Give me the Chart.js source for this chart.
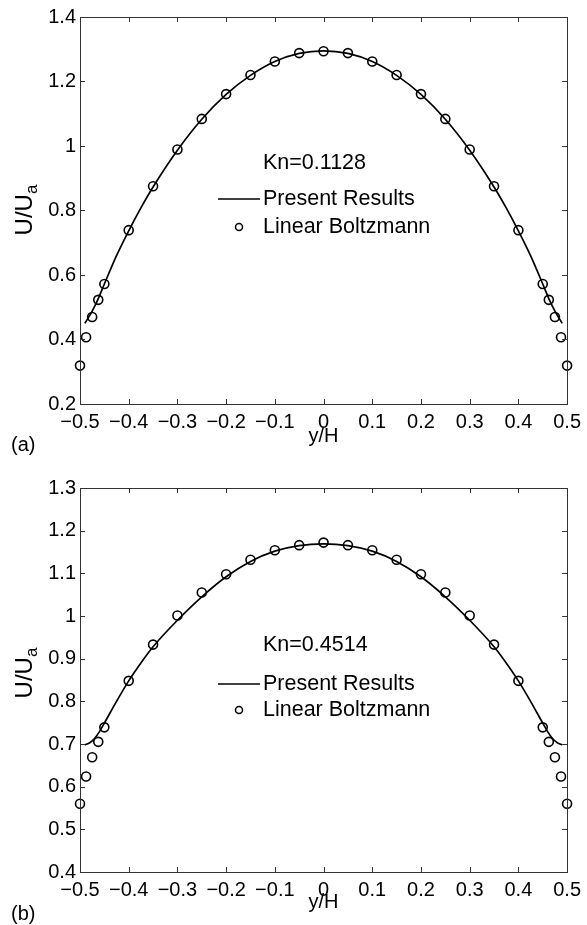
<!DOCTYPE html>
<html>
<head>
<meta charset="utf-8">
<script src="https://cdn.jsdelivr.net/npm/chart.js@4.4.0/dist/chart.umd.min.js"></script>
<style>
  body { margin: 0; background: #fff; }
  #wrap { position: relative; width: 587px; height: 925px; }
  #chartA { position: absolute; left: 0; top: 0; }
  #chartB { position: absolute; left: 0; top: 460px; }
</style>
</head>
<body>
<div id="wrap">
  <canvas id="chartA" width="587" height="460"></canvas>
  <canvas id="chartB" width="587" height="465"></canvas>
</div>
<script>
// ============================
// DATA
// ============================

const xTickValues = [-0.5, -0.4, -0.3, -0.2, -0.1, 0, 0.1, 0.2, 0.3, 0.4, 0.5];
const xTickLabels = ["\u22120.5", "\u22120.4", "\u22120.3", "\u22120.2", "\u22120.1", "0", "0.1", "0.2", "0.3", "0.4", "0.5"];

const yTickValuesA = [0.2, 0.4, 0.6, 0.8, 1, 1.2, 1.4];
const yTickLabelsA = ["0.2", "0.4", "0.6", "0.8", "1", "1.2", "1.4"];

const yTickValuesB = [0.4, 0.5, 0.6, 0.7, 0.8, 0.9, 1, 1.1, 1.2, 1.3];
const yTickLabelsB = ["0.4", "0.5", "0.6", "0.7", "0.8", "0.9", "1", "1.1", "1.2", "1.3"];

// Linear Boltzmann points (same y/H positions in both panels)
const yPoints = [-0.5, -0.4875, -0.475, -0.4625, -0.45, -0.4, -0.35, -0.3, -0.25, -0.2, -0.15, -0.1, -0.05, 0,
                 0.05, 0.1, 0.15, 0.2, 0.25, 0.3, 0.35, 0.4, 0.45, 0.4625, 0.475, 0.4875, 0.5];

const boltzmannA = [0.319, 0.407, 0.470, 0.523, 0.572, 0.739, 0.875, 0.989, 1.084, 1.161, 1.220, 1.262, 1.288, 1.294,
                    1.288, 1.262, 1.220, 1.161, 1.084, 0.989, 0.875, 0.739, 0.572, 0.523, 0.470, 0.407, 0.319];

const boltzmannB = [0.560, 0.624, 0.669, 0.705, 0.739, 0.848, 0.933, 1.001, 1.055, 1.098, 1.132, 1.154, 1.166, 1.172,
                    1.166, 1.154, 1.132, 1.098, 1.055, 1.001, 0.933, 0.848, 0.739, 0.705, 0.669, 0.624, 0.560];

// Present Results curves
const yLineA = [-0.49, -0.475, -0.4625, -0.45, -0.425, -0.4, -0.375, -0.35, -0.3, -0.25, -0.2, -0.15, -0.1, -0.05, 0,
                0.05, 0.1, 0.15, 0.2, 0.25, 0.3, 0.35, 0.375, 0.4, 0.425, 0.45, 0.4625, 0.475, 0.49];
const presentA = [0.450, 0.488, 0.527, 0.572, 0.660, 0.737, 0.808, 0.873, 0.987, 1.083, 1.160, 1.219, 1.262, 1.287, 1.295,
                  1.287, 1.262, 1.219, 1.160, 1.083, 0.987, 0.873, 0.808, 0.737, 0.660, 0.572, 0.527, 0.488, 0.450];

const yLineB = [-0.49, -0.48, -0.47, -0.46, -0.45, -0.425, -0.4, -0.375, -0.35, -0.3, -0.25, -0.2, -0.15, -0.1, -0.05, 0,
                0.05, 0.1, 0.15, 0.2, 0.25, 0.3, 0.35, 0.375, 0.4, 0.425, 0.45, 0.46, 0.47, 0.48, 0.49];
const presentB = [0.698, 0.703, 0.713, 0.729, 0.749, 0.800, 0.848, 0.890, 0.928, 0.990, 1.045, 1.092, 1.128, 1.152, 1.165, 1.169,
                  1.165, 1.152, 1.128, 1.092, 1.045, 0.990, 0.928, 0.890, 0.848, 0.800, 0.749, 0.729, 0.713, 0.703, 0.698];

// ============================
// DEFAULTS
// ============================

Chart.defaults.font.family = "'Liberation Sans', Arial, Helvetica, sans-serif";
Chart.defaults.color = "#000";

const FONT = "'Liberation Sans', Arial, Helvetica, sans-serif";

// box, inward ticks and the text annotations
const boxPlugin = {
    id: "box",
    afterDraw(chart, args, o) {
        const ctx = chart.ctx;
        const a = chart.chartArea;
        const x = chart.scales.x;
        const y = chart.scales.y;

        ctx.save();
        ctx.strokeStyle = "#333";
        ctx.lineWidth = 1;
        ctx.strokeRect(Math.round(a.left) + 0.5, Math.round(a.top) + 0.5,
            Math.round(a.right - a.left), Math.round(a.bottom - a.top));

        ctx.beginPath();
        x.ticks.forEach(t => {
            const px = Math.round(x.getPixelForValue(t.value)) + 0.5;
            ctx.moveTo(px, a.bottom);
            ctx.lineTo(px, a.bottom - 5);
            ctx.moveTo(px, a.top);
            ctx.lineTo(px, a.top + 5);
        });
        y.ticks.forEach(t => {
            const py = Math.round(y.getPixelForValue(t.value)) + 0.5;
            ctx.moveTo(a.left, py);
            ctx.lineTo(a.left + 5, py);
            ctx.moveTo(a.right, py);
            ctx.lineTo(a.right - 5, py);
        });
        ctx.stroke();

        ctx.fillStyle = "#000";

        // x title
        ctx.font = "20px " + FONT;
        ctx.textAlign = "center";
        ctx.textBaseline = "middle";
        ctx.fillText("y/H", (a.left + a.right) / 2, o.xTitleY);

        // panel letter
        ctx.textAlign = "left";
        ctx.fillText(o.panel, 11, o.panelY);

        // y title with subscript
        ctx.save();
        ctx.translate(32, o.yTitleY);
        ctx.rotate(-Math.PI / 2);
        ctx.font = "24px " + FONT;
        ctx.textBaseline = "alphabetic";
        const w1 = ctx.measureText("U/U").width;
        ctx.font = "17px " + FONT;
        const w2 = ctx.measureText("a").width;
        ctx.font = "24px " + FONT;
        ctx.fillText("U/U", -(w1 + w2) / 2, 0);
        ctx.font = "17px " + FONT;
        ctx.fillText("a", -(w1 + w2) / 2 + w1, 5);
        ctx.restore();

        // Kn label and legend
        ctx.font = "21.5px " + FONT;
        ctx.textAlign = "left";
        ctx.textBaseline = "middle";
        ctx.fillText(o.kn, 263, o.knY);
        ctx.fillText("Present Results", 263, o.lineY);
        ctx.fillText("Linear Boltzmann", 263, o.circleY);

        ctx.lineWidth = 1.5;
        ctx.strokeStyle = "#000";
        ctx.beginPath();
        ctx.moveTo(218, o.lineY);
        ctx.lineTo(260, o.lineY);
        ctx.stroke();
        ctx.beginPath();
        ctx.arc(239, o.circleY, 3.5, 0, Math.PI * 2);
        ctx.stroke();

        ctx.restore();
    }
};

function makeChart(id, yMin, yMax, yVals, yLabels, lineX, lineY, pts, padTop, xHeight, texts) {

    new Chart(document.getElementById(id), {

        type: "scatter",

        data: {
            datasets: [
                {
                    label: "Present Results",
                    data: lineX.map((v, i) => ({ x: v, y: lineY[i] })),
                    showLine: true,
                    borderColor: "#000",
                    borderWidth: 1.7,
                    pointRadius: 0,
                    cubicInterpolationMode: "monotone"
                },
                {
                    label: "Linear Boltzmann",
                    data: yPoints.map((v, i) => ({ x: v, y: pts[i] })),
                    pointRadius: 4.5,
                    pointBorderWidth: 1.6,
                    pointBorderColor: "#000",
                    pointBackgroundColor: "rgba(0,0,0,0)",
                    clip: false
                }
            ]
        },

        options: {
            responsive: false,
            animation: false,
            layout: {
                padding: { left: 0, right: 15, top: padTop, bottom: 0 }
            },
            plugins: {
                legend: { display: false },
                tooltip: { enabled: false },
                box: texts
            },
            scales: {
                x: {
                    type: "linear",
                    min: -0.5,
                    max: 0.5,
                    afterBuildTicks: s => { s.ticks = xTickValues.map(v => ({ value: v })); },
                    afterFit: s => { s.height = xHeight; },
                    grid: { display: false, drawTicks: false },
                    border: { display: false },
                    ticks: {
                        autoSkip: false,
                        maxRotation: 0,
                        padding: 6,
                        font: { size: 20 },
                        callback: (v, i) => xTickLabels[i]
                    }
                },
                y: {
                    type: "linear",
                    min: yMin,
                    max: yMax,
                    afterBuildTicks: s => { s.ticks = yVals.map(v => ({ value: v })); },
                    afterFit: s => { s.width = 80; },
                    grid: { display: false, drawTicks: false },
                    border: { display: false },
                    ticks: {
                        autoSkip: false,
                        padding: 4,
                        font: { size: 20 },
                        callback: (v, i) => yLabels[i]
                    }
                }
            }
        },

        plugins: [boxPlugin]
    });
}

makeChart("chartA", 0.2, 1.4, yTickValuesA, yTickLabelsA, yLineA, presentA, boltzmannA, 17, 56, {
    kn: "Kn=0.1128", knY: 163, lineY: 199, circleY: 227,
    xTitleY: 436, panel: "(a)", panelY: 445, yTitleY: 210
});

makeChart("chartB", 0.4, 1.3, yTickValuesB, yTickLabelsB, yLineB, presentB, boltzmannB, 28, 53, {
    kn: "Kn=0.4514", knY: 185, lineY: 224, circleY: 250,
    xTitleY: 442, panel: "(b)", panelY: 454, yTitleY: 213
});
</script>
</body>
</html>
